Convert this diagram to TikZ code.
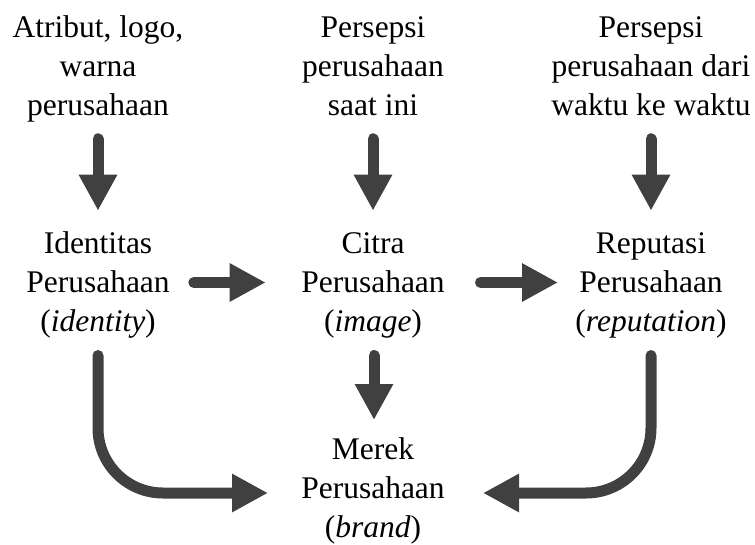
\documentclass[tikz,border=0pt]{standalone}
\usepackage{fontspec}
\setmainfont{Liberation Serif}
\usetikzlibrary{arrows.meta}
\definecolor{arrowgray}{RGB}{64,64,64}
\tikzset{
  label/.style={align=center, inner sep=0pt, anchor=base,
    font=\fontsize{31.5}{38.6}\selectfont},
  bigarrow/.style={draw=arrowgray, line width=11pt, line cap=round,
    -{Triangle[length=36pt, width=36pt]}, fill=none},
}
\begin{document}
\begin{tikzpicture}[x=1pt, y=-1pt]
  \useasboundingbox (0,0) rectangle (755,544);

  % sources (base anchor = baseline of the last line)
  \node[label] (attr) at (98,115) {Atribut, logo,\\warna\\perusahaan};
  \node[label] (now)  at (373,115) {Persepsi\\perusahaan\\saat ini};
  \node[label] (time) at (651,115) {Persepsi\\perusahaan dari\\waktu ke waktu};

  % concepts
  \node[label] (ident) at (98,331)  {Identitas\\Perusahaan\\(\textit{identity})};
  \node[label] (image) at (373,331) {Citra\\Perusahaan\\(\textit{image})};
  \node[label] (rep)   at (651,331) {Reputasi\\Perusahaan\\(\textit{reputation})};
  \node[label] (brand) at (373,537) {Merek\\Perusahaan\\(\textit{brand})};

  % downward arrows from the sources
  \draw[bigarrow] ([yshift=-23.8pt]attr.base) -- ([yshift=120.3pt]ident.base);
  \draw[bigarrow] ([yshift=-23.8pt]now.base)  -- ([yshift=120.3pt]image.base);
  \draw[bigarrow] ([yshift=-23.8pt]time.base) -- ([yshift=120.3pt]rep.base);

  % identity -> image -> reputation
  \draw[bigarrow] ([xshift=95.8pt,yshift=48.5pt]ident.base) -- ([xshift=-107.3pt,yshift=48.5pt]image.base);
  \draw[bigarrow] ([xshift=107.5pt,yshift=48.5pt]image.base) -- ([xshift=-93pt,yshift=48.5pt]rep.base);

  % image -> brand
  \draw[bigarrow] ([xshift=1pt,yshift=-24.5pt]image.base) -- ([xshift=1pt,yshift=117pt]brand.base);

  % identity and reputation -> brand
  \draw[bigarrow, rounded corners=65pt] ([yshift=-24.5pt]ident.base) |- ([xshift=-105pt,yshift=44pt]brand.base);
  \draw[bigarrow, rounded corners=65pt] ([yshift=-24.5pt]rep.base) |- ([xshift=110pt,yshift=44pt]brand.base);
\end{tikzpicture}
\end{document}
